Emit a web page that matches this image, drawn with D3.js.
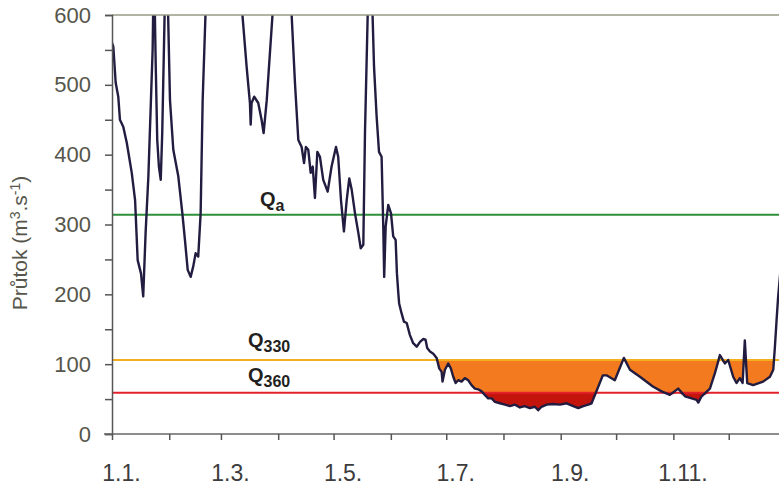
<!DOCTYPE html>
<html>
<head>
<meta charset="utf-8">
<script src="https://cdn.jsdelivr.net/npm/d3@7"></script>
<style>
  html, body { margin: 0; padding: 0; background: #fff; }
  svg { display: block; font-family: "Liberation Sans", Arial, sans-serif; }
</style>
</head>
<body>
<div id="chart"></div>
<script>
const days = [
  0, 0.7, 2.0, 3.4, 4.3, 6.1, 8.0, 10.7, 12.5, 13.9, 15.7, 16.9, 18.2, 19.7, 21.1, 22.0, 22.7,
  23.7, 24.5, 25.4, 26.4, 27.2, 29.4, 31.4, 33.2, 35.9, 38.1, 39.5, 41.0, 42.6, 44.0, 45.3,
  46.7, 48.0, 49.1, 53.1, 61.2, 66.6, 68.2, 72.9, 74.7, 75.1, 75.6, 77.0, 79.2, 81.0, 82.1,
  83.8, 91.0, 95.8, 99.1, 100.9, 102.7, 104.0, 105.0, 106.3, 107.6, 108.7, 109.9, 111.2,
  112.6, 114.4, 116.8, 118.9, 121.3, 122.5, 124.0, 125.6, 127.1, 128.5, 129.8, 131.6, 133.4,
  134.7, 136.1, 137.0, 138.9, 141.0, 141.9, 143.3, 144.6, 146.0, 146.9, 147.4, 148.2, 149.6,
  151.1, 152.3, 153.6, 154.3, 155.1, 155.5, 156.8, 158.1, 159.6, 161.3, 163.1, 165.0, 166.8,
  168.5, 169.8, 170.7, 172.2, 174.0, 175.8, 177.2, 178.5, 179.0, 180.3, 182.1, 183.5, 184.8,
  186.1, 187.5, 189.3, 191.1, 192.9, 194.7, 196.5, 198.3, 200.2, 201.9, 203.7, 205.6, 207.4,
  210.1, 212.8, 215.5, 218.2, 220.9, 223.6, 226.3, 229.0, 230.8, 232.6, 235.4, 238.9, 242.6,
  246.2, 249.8, 252.5, 255.2, 257.9, 259.7, 262.6, 265.8, 267.8, 272.3, 277.2, 280.5, 285.9,
  292.9, 297.6, 302.1, 306.6, 310.3, 316.6, 317.5, 319.3, 323.8, 326.5, 329.2, 331.9, 333.7,
  336.4, 338.2, 340.0, 341.5, 342.7, 344.0, 347.2, 352.6, 356.3, 358.1, 359.0, 359.9, 360.7,
  362.2, 364.9
];
const flow = [
  560, 555, 503, 483, 450, 440, 417, 374, 335, 249, 230, 197, 288, 369, 479, 550, 680,
  526, 421, 383, 364, 431, 720, 478, 407, 369, 316, 278, 235, 225, 240, 259,
  254, 316, 478, 800, 900, 750, 680, 526, 474, 443, 474, 483, 474, 450, 431,
  478, 760, 680, 502, 421, 411, 388, 411, 407, 374, 383, 338, 404,
  397, 364, 347, 383, 411, 397, 335, 290, 335, 366, 350, 316, 288,
  266, 271, 431, 650, 610, 526, 455, 404, 397, 297, 225, 297, 328,
  316, 283, 278, 230, 200, 187, 173, 161, 159, 142, 130, 125, 132,
  136, 135, 123, 118, 115, 109, 94, 89, 75, 92, 101, 94, 82,
  73, 77, 75, 80, 77, 70, 65, 64, 61, 56, 51, 51, 46,
  44, 42, 40, 42, 38, 40, 37, 39, 34, 39, 42, 43, 42,
  44, 40, 37, 40, 42, 44, 63, 84, 84, 77, 109, 92, 82,
  68, 61, 56, 65, 54, 49, 45, 54, 65, 87, 113, 101, 106,
  82, 73, 80, 73, 134, 73, 70, 75, 82, 92, 125, 163, 195,
  240, 290
];

// threshold flows
const qNames = ["a", "330", "360"];
const qValues = [314, 106, 59];

// axis ticks
const monthStarts = [0, 31, 59, 90, 120, 151, 181, 212, 243, 273, 304, 334];
const monthLabels = ["1.1.", "", "1.3.", "", "1.5.", "", "1.7.", "", "1.9.", "", "1.11.", ""];
const yTicks = d3.range(0, 601, 50);
const yLabels = [0, 100, 200, 300, 400, 500, 600];

const width = 779;
const height = 486;
const margin = {left: 112, top: 15, bottom: 52};

const svg = d3.select('#chart').append('svg')
  .attr('width', width)
  .attr('height', height);

const x = d3.scaleLinear().domain([0, 365]).range([margin.left, 786]);
const y = d3.scaleLinear().domain([0, 600]).range([height - margin.bottom, margin.top]);

svg.append('defs').append('clipPath')
  .attr('id', 'plot-clip')
  .append('rect')
  .attr('x', margin.left)
  .attr('y', margin.top)
  .attr('width', width - margin.left)
  .attr('height', y(0) - margin.top);

const data = days.map((d, i) => ({day: d, value: flow[i]}));

const plot = svg.append('g').attr('clip-path', 'url(#plot-clip)');

// deficit areas below Q330 and Q360
const areaBelow = level => d3.area()
  .x(d => x(d.day))
  .y0(y(level))
  .y1(d => y(Math.min(d.value, level)));

plot.append('path')
  .datum(data)
  .attr('d', areaBelow(qValues[1]))
  .attr('fill', '#f47a1f');

plot.append('path')
  .datum(data)
  .attr('d', areaBelow(qValues[2]))
  .attr('fill', '#c4150c');

// threshold lines
const qColors = ['#2f8f3a', '#f2b01e', '#e3212b'];
qValues.forEach((q, i) => {
  plot.append('line')
    .attr('x1', margin.left)
    .attr('x2', width)
    .attr('y1', y(q))
    .attr('y2', y(q))
    .attr('stroke', qColors[i])
    .attr('stroke-width', 2);
});

// hydrograph
plot.append('path')
  .datum(data)
  .attr('d', d3.line().x(d => x(d.day)).y(d => y(d.value)))
  .attr('fill', 'none')
  .attr('stroke', '#221d40')
  .attr('stroke-width', 2.4)
  .attr('stroke-linejoin', 'round');

// top frame line
svg.append('line')
  .attr('x1', margin.left)
  .attr('x2', width)
  .attr('y1', y(600))
  .attr('y2', y(600))
  .attr('stroke', '#9a9a86')
  .attr('stroke-width', 1.5);

// y axis
const yAxis = d3.axisLeft(y)
  .tickValues(yTicks)
  .tickSize(7)
  .tickPadding(14)
  .tickFormat(d => yLabels.includes(d) ? d : '');

const yAxisGroup = svg.append('g')
  .attr('transform', `translate(${margin.left},0)`)
  .call(yAxis);
yAxisGroup.select('.domain').attr('stroke', '#555').attr('stroke-width', 1.5);
yAxisGroup.selectAll('.tick line').attr('stroke', '#555').attr('stroke-width', 1.5);
yAxisGroup.selectAll('.tick text')
  .attr('font-size', 22)
  .attr('font-family', '"Liberation Sans", Arial, sans-serif')
  .attr('fill', '#56564c');

// x axis
const xAxis = d3.axisBottom(x)
  .tickValues(monthStarts)
  .tickSize(6)
  .tickSizeOuter(0)
  .tickFormat((d, i) => monthLabels[i]);

const xAxisGroup = svg.append('g')
  .attr('transform', `translate(0,${y(0)})`)
  .call(xAxis);
xAxisGroup.select('.domain')
  .attr('d', `M${margin.left - 8},0H${width}`)
  .attr('stroke', '#666')
  .attr('stroke-width', 1.5);
xAxisGroup.selectAll('.tick line').attr('stroke', '#555').attr('stroke-width', 1.5);
xAxisGroup.selectAll('.tick text')
  .attr('font-size', 23)
  .attr('font-family', '"Liberation Sans", Arial, sans-serif')
  .attr('fill', '#3c3c3c')
  .attr('dx', 9)
  .attr('y', 31);

// y axis title
const title = svg.append('text')
  .attr('transform', `translate(27,${243}) rotate(-90)`)
  .attr('text-anchor', 'middle')
  .attr('font-size', 21)
  .attr('fill', '#56564c');
title.append('tspan').text('Průtok (m');
title.append('tspan').text('3').attr('font-size', 14).attr('baseline-shift', '7');
title.append('tspan').text('.s');
title.append('tspan').text('-1').attr('font-size', 14).attr('baseline-shift', '7');
title.append('tspan').text(')');

// threshold labels
const qLabelPos = [[260, 206], [248, 347], [248, 382]];
qNames.forEach((name, i) => {
  const t = svg.append('text')
    .attr('x', qLabelPos[i][0])
    .attr('y', qLabelPos[i][1])
    .attr('font-size', 20)
    .attr('font-weight', 'bold')
    .attr('fill', '#231f20');
  t.append('tspan').text('Q');
  t.append('tspan').text(name)
    .attr('font-size', 16)
    .attr('dy', 5);
});
</script>
</body>
</html>
